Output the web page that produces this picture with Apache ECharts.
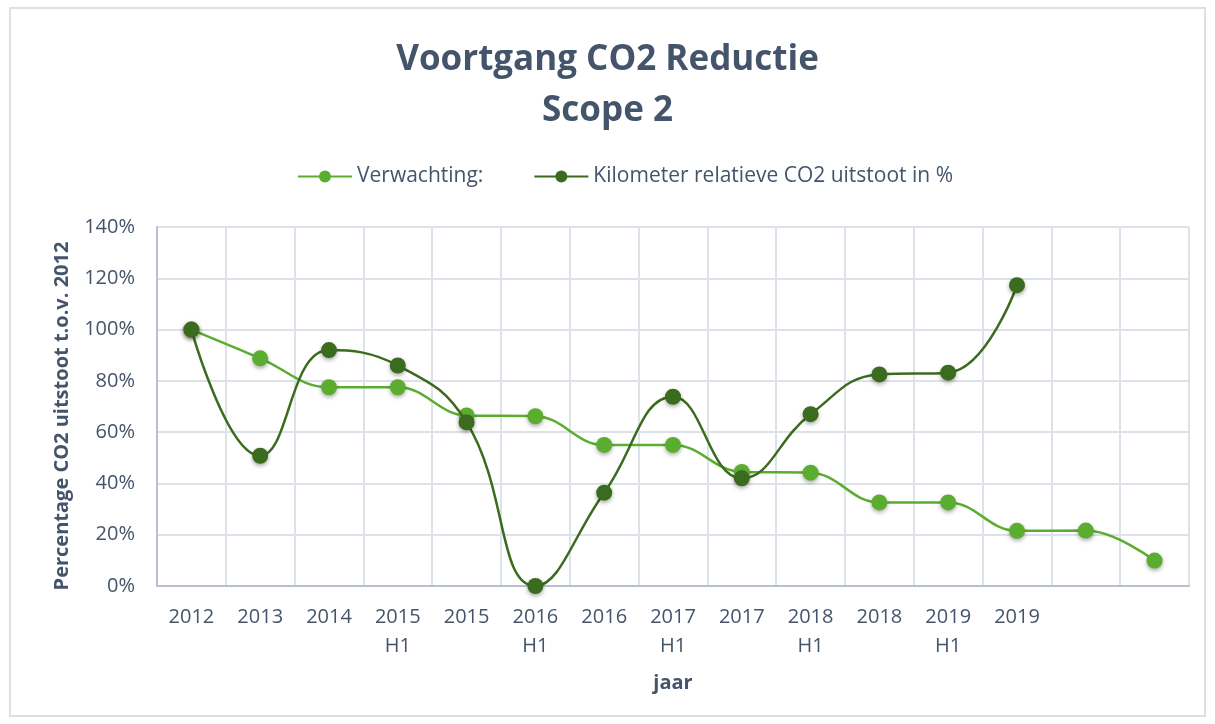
<!DOCTYPE html>
<html>
<head>
<meta charset="utf-8">
<title>Voortgang CO2 Reductie Scope 2</title>
<script src="https://cdn.jsdelivr.net/npm/echarts@6/dist/echarts.min.js"></script>
<style>
  html, body { margin: 0; padding: 0; background: #fff; }
  #chart { width: 1215px; height: 724px; }
</style>
</head>
<body>
<div id="chart"></div>
<script>
// categorieen op de x-as (laatste twee zonder label)
var jaren = ['2012', '2013', '2014', '2015\nH1', '2015', '2016\nH1', '2016', '2017\nH1', '2017', '2018\nH1', '2018', '2019\nH1', '2019', '', ''];
// verwachting in % t.o.v. 2012
var verwachting = [100, 88.8, 77.5, 77.5, 66.5, 66.2, 55, 55, 44.5, 44.2, 32.6, 32.6, 21.5, 21.6, 9.9];
// gemeten kilometer relatieve uitstoot in %
var kilometer = [100, 50.8, 92, 86, 63.8, 0, 36.4, 73.8, 42, 67, 82.5, 83.2, 117.3, null, null];

var tekstKleur = '#44546a';
var lichtGroen = '#5bad30';
var donkerGroen = '#3b6b1e';
var font = '"Open Sans"';

var myChart = echarts.init(document.getElementById('chart'));

var option = {
    backgroundColor: '#ffffff',
    textStyle: { fontFamily: font },
    graphic: [{
        type: 'rect',
        shape: { x: 10, y: 8, width: 1195, height: 708 },
        style: { fill: 'none', stroke: '#dcdfe4', lineWidth: 2 },
        silent: true
    }],
    title: {
        text: 'Voortgang CO2 Reductie\nScope 2',
        left: 'center',
        top: 30,
        textStyle: {
            fontFamily: font,
            fontSize: 35,
            fontWeight: 'bold',
            color: tekstKleur,
            lineHeight: 51
        }
    },
    legend: {
        top: 161,
        left: 292,
        itemWidth: 54,
        itemHeight: 15,
        itemGap: 50,
        textStyle: { fontFamily: font, fontSize: 21, color: tekstKleur },
        data: ['Verwachting:', 'Kilometer relatieve CO2 uitstoot in %']
    },
    grid: {
        left: 157,
        right: 26,
        top: 227,
        bottom: 138
    },
    xAxis: {
        type: 'category',
        data: jaren,
        boundaryGap: true,
        name: 'jaar',
        nameLocation: 'middle',
        nameGap: 87,
        nameTextStyle: { fontFamily: font, fontSize: 20, fontWeight: 'bold', color: tekstKleur },
        axisLine: { lineStyle: { color: '#b8c0ce', width: 2 } },
        axisTick: { show: false },
        axisLabel: {
            interval: 0,
            margin: 17,
            fontFamily: font,
            fontSize: 20,
            color: tekstKleur,
            lineHeight: 29
        },
        splitLine: { show: true, lineStyle: { color: '#dde1e8', width: 2 } }
    },
    yAxis: {
        type: 'value',
        min: 0,
        max: 140,
        interval: 20,
        name: 'Percentage CO2 uitstoot t.o.v. 2012',
        nameLocation: 'middle',
        nameRotate: 90,
        nameGap: 85,
        nameTextStyle: {
            fontFamily: font,
            fontSize: 20,
            fontWeight: 'bold',
            color: tekstKleur,
            padding: [0, 19, 0, 0]
        },
        axisLine: { show: true, lineStyle: { color: '#b8c0ce', width: 2 } },
        axisTick: { show: false },
        axisLabel: {
            formatter: '{value}%',
            margin: 22,
            fontFamily: font,
            fontSize: 20,
            color: tekstKleur
        },
        splitLine: { show: true, lineStyle: { color: '#dde1e8', width: 2 } }
    },
    series: [
        {
            name: 'Verwachting:',
            type: 'line',
            data: verwachting,
            smooth: 0.4,
            symbol: 'circle',
            symbolSize: 16,
            z: 2,
            lineStyle: { color: lichtGroen, width: 2.5 },
            itemStyle: {
                color: lichtGroen,
                shadowBlur: 4,
                shadowOffsetY: 2,
                shadowColor: 'rgba(0,0,0,0.35)'
            }
        },
        {
            name: 'Kilometer relatieve CO2 uitstoot in %',
            type: 'line',
            data: kilometer,
            smooth: 0.45,
            symbol: 'circle',
            symbolSize: 16,
            z: 3,
            lineStyle: { color: donkerGroen, width: 2.5 },
            itemStyle: {
                color: donkerGroen,
                shadowBlur: 4,
                shadowOffsetY: 2,
                shadowColor: 'rgba(0,0,0,0.35)'
            }
        }
    ]
};

myChart.setOption(option);
</script>
</body>
</html>
